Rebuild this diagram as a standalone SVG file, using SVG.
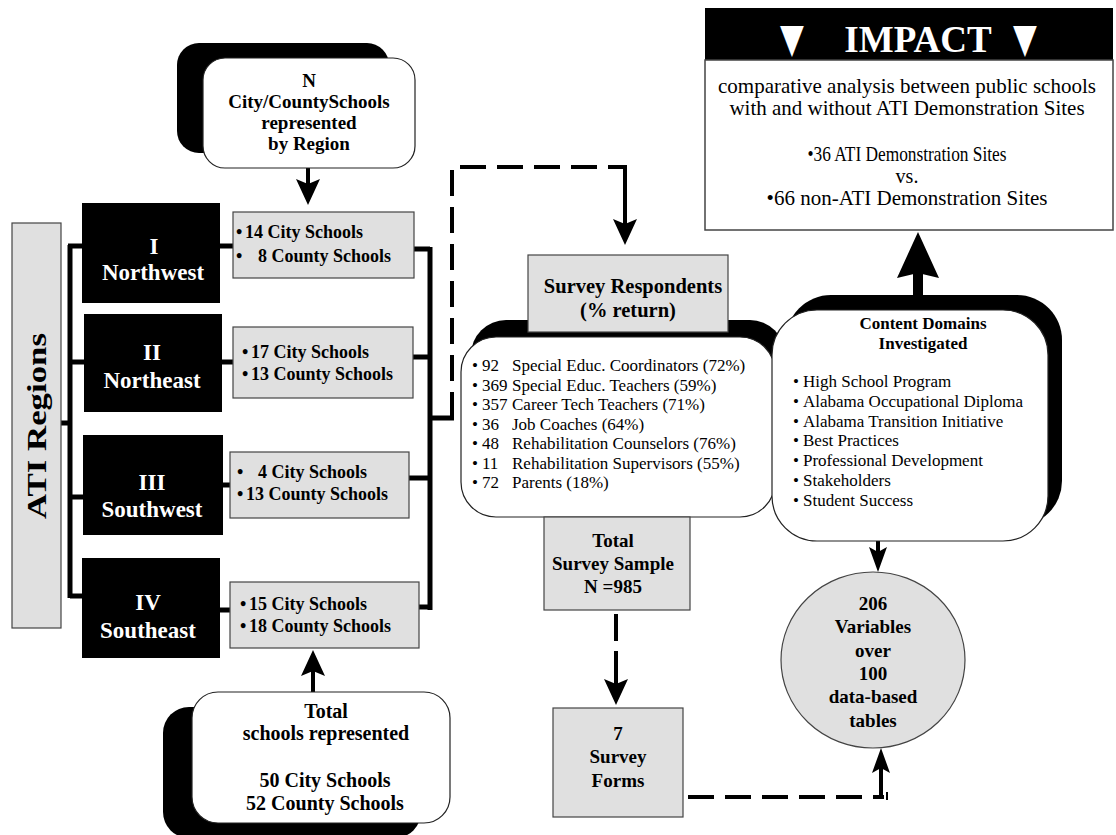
<svg xmlns="http://www.w3.org/2000/svg" width="1116" height="835" viewBox="0 0 1116 835">
<style>
.b{font-family:"Liberation Serif","Times New Roman",serif;font-weight:bold;fill:#000}
.r{font-family:"Liberation Serif","Times New Roman",serif;fill:#000}
.w{fill:#fff}
.gray{fill:#e0e0e0;stroke:#444;stroke-width:1.2}
.blk{fill:#000}
.wbox{fill:#fff;stroke:#222;stroke-width:1.2}
.ln{fill:none;stroke:#000;stroke-width:5}
.arr{fill:none;stroke:#000;stroke-width:4}
.dash{fill:none;stroke:#000;stroke-width:4;stroke-dasharray:26 11}
.mid{text-anchor:middle}
</style>
<defs>
<marker id="ah" markerUnits="userSpaceOnUse" viewBox="-22 -13 32 26" refX="0" refY="0" markerWidth="32" markerHeight="26" orient="auto">
<path d="M8,0 L-18,-12 L-13,0 L-18,12 Z" fill="#000"/>
</marker>
<marker id="ahS" markerUnits="userSpaceOnUse" viewBox="-22 -11 30 22" refX="0" refY="0" markerWidth="30" markerHeight="22" orient="auto">
<path d="M6,0 L-19,-9 L-14,0 L-19,9 Z" fill="#000"/>
</marker>
<marker id="ahB" markerUnits="userSpaceOnUse" viewBox="-40 -23 56 46" refX="0" refY="0" markerWidth="56" markerHeight="46" orient="auto">
<path d="M12,0 L-34,-21 L-29,0 L-34,21 Z" fill="#000"/>
</marker>
</defs>

<g id="connectors">
<path class="ln" d="M61,423 H70 M70,245 V598 M68,246 H84 M70,362 H86 M70,497 H86 M70,596 H84"/>
<path class="ln" d="M220,246 H235 M222,362 H235 M223,485 H232 M220,610 H232"/>
<path class="ln" d="M414,249 H430 M430,247 V610 M413,357 H430 M409,478 H430 M419,607 H430 M430,418 H454"/>
<path class="dash" d="M452,418 V167 H625"/>
<path class="arr" d="M625,165 V237" marker-end="url(#ah)"/>
<path class="arr" d="M308,168 V197" marker-end="url(#ah)"/>
<path class="arr" d="M313,692 V658" marker-end="url(#ah)"/>
<path class="arr" d="M616,614 V641 M616,651 V697" marker-end="url(#ah)"/>
<path class="dash" d="M688,797 H884"/>
<path fill="none" stroke="#000" stroke-width="2" d="M887,792 V800"/>
<path class="arr" d="M881,799 V754" marker-end="url(#ahS)"/>
<path class="arr" d="M878,541 V566" marker-end="url(#ahS)"/>
<path fill="none" stroke="#000" stroke-width="10" d="M918,312 V244" marker-end="url(#ahB)"/>
</g>

<g id="n-box">
<rect x="177" y="43" width="212" height="110" rx="22" class="blk"/>
<rect x="203" y="58" width="212" height="110" rx="22" class="wbox"/>
<text class="b mid" font-size="19" x="309"><tspan x="309" y="87">N</tspan><tspan x="309" y="108">City/CountySchools</tspan><tspan x="309" y="129">represented</tspan><tspan x="309" y="150">by Region</tspan></text>
</g>

<g id="ati-regions">
<rect x="12" y="223" width="49" height="405" class="gray"/>
<text class="b mid" font-size="27" transform="translate(46,426) rotate(-90)" x="0" y="0" textLength="186" lengthAdjust="spacingAndGlyphs">ATI Regions</text>
</g>

<g id="region-1">
<rect x="82" y="203" width="138" height="100" class="blk"/>
<text class="b mid w" font-size="23"><tspan x="154" y="254">I</tspan><tspan x="153" y="280">Northwest</tspan></text>
</g>
<g id="region-2">
<rect x="84" y="314" width="138" height="98" class="blk"/>
<text class="b mid w" font-size="23"><tspan x="152" y="360">II</tspan><tspan x="152" y="388">Northeast</tspan></text>
</g>
<g id="region-3">
<rect x="83" y="435" width="140" height="100" class="blk"/>
<text class="b mid w" font-size="23"><tspan x="152" y="490">III</tspan><tspan x="152" y="517">Southwest</tspan></text>
</g>
<g id="region-4">
<rect x="82" y="558" width="138" height="100" class="blk"/>
<text class="b mid w" font-size="23"><tspan x="148" y="610">IV</tspan><tspan x="148" y="638">Southeast</tspan></text>
</g>

<g id="counts-1">
<rect x="233" y="212" width="181" height="66" class="gray"/>
<text class="b" font-size="18"><tspan x="236" y="238">•</tspan><tspan x="245" y="238">14 City Schools</tspan><tspan x="236" y="262">•</tspan><tspan x="258" y="262">8 County Schools</tspan></text>
</g>
<g id="counts-2">
<rect x="233" y="327" width="180" height="71" class="gray"/>
<text class="b" font-size="18"><tspan x="242" y="358">•</tspan><tspan x="251" y="358">17 City Schools</tspan><tspan x="242" y="380">•</tspan><tspan x="251" y="380">13 County Schools</tspan></text>
</g>
<g id="counts-3">
<rect x="230" y="452" width="179" height="66" class="gray"/>
<text class="b" font-size="18"><tspan x="237" y="478">•</tspan><tspan x="258" y="478">4 City Schools</tspan><tspan x="237" y="500">•</tspan><tspan x="246" y="500">13 County Schools</tspan></text>
</g>
<g id="counts-4">
<rect x="230" y="582" width="189" height="66" class="gray"/>
<text class="b" font-size="18"><tspan x="240" y="610">•</tspan><tspan x="249" y="610">15 City Schools</tspan><tspan x="240" y="632">•</tspan><tspan x="249" y="632">18 County Schools</tspan></text>
</g>

<g id="total-box">
<rect x="163" y="707" width="258" height="131" rx="26" class="blk"/>
<rect x="192" y="692" width="258" height="131" rx="26" class="wbox"/>
<text class="b mid" font-size="20"><tspan x="326" y="718">Total</tspan><tspan x="326" y="740">schools represented</tspan><tspan x="325" y="787">50 City Schools</tspan><tspan x="325" y="810">52 County Schools</tspan></text>
</g>

<g id="respondents">
<rect x="471" y="320" width="314" height="180" rx="35" class="blk"/>
<rect x="461" y="337" width="314" height="180" rx="35" class="wbox"/>
<text class="r" font-size="17">
<tspan x="472" y="371">•</tspan><tspan x="482" y="371">92</tspan><tspan x="512" y="371">Special Educ. Coordinators (72%)</tspan>
<tspan x="472" y="390.5">•</tspan><tspan x="482" y="390.5">369</tspan><tspan x="512" y="390.5">Special Educ. Teachers (59%)</tspan>
<tspan x="472" y="410">•</tspan><tspan x="482" y="410">357</tspan><tspan x="512" y="410">Career Tech Teachers (71%)</tspan>
<tspan x="472" y="429.5">•</tspan><tspan x="482" y="429.5">36</tspan><tspan x="512" y="429.5">Job Coaches (64%)</tspan>
<tspan x="472" y="449">•</tspan><tspan x="482" y="449">48</tspan><tspan x="512" y="449">Rehabilitation Counselors (76%)</tspan>
<tspan x="472" y="468.5">•</tspan><tspan x="482" y="468.5">11</tspan><tspan x="512" y="468.5">Rehabilitation Supervisors (55%)</tspan>
<tspan x="472" y="488">•</tspan><tspan x="482" y="488">72</tspan><tspan x="512" y="488">Parents (18%)</tspan>
</text>
</g>

<g id="respondents-title">
<rect x="528" y="255" width="200" height="77" class="gray"/>
<text class="b mid" font-size="20.5"><tspan x="633" y="293">Survey Respondents</tspan><tspan x="628" y="317">(% return)</tspan></text>
</g>

<g id="content-domains">
<rect x="786" y="295" width="276" height="231" rx="45" class="blk"/>
<rect x="772" y="310" width="276" height="231" rx="45" class="wbox"/>
<text class="b mid" font-size="17"><tspan x="923" y="329">Content Domains</tspan><tspan x="923" y="349">Investigated</tspan></text>
<text class="r" font-size="17">
<tspan x="793" y="387">•</tspan><tspan x="803" y="387">High School Program</tspan>
<tspan x="793" y="407">•</tspan><tspan x="803" y="407">Alabama Occupational Diploma</tspan>
<tspan x="793" y="427">•</tspan><tspan x="803" y="427">Alabama Transition Initiative</tspan>
<tspan x="793" y="446">•</tspan><tspan x="803" y="446">Best Practices</tspan>
<tspan x="793" y="466">•</tspan><tspan x="803" y="466">Professional Development</tspan>
<tspan x="793" y="486">•</tspan><tspan x="803" y="486">Stakeholders</tspan>
<tspan x="793" y="506">•</tspan><tspan x="803" y="506">Student Success</tspan>
</text>
</g>

<g id="survey-sample">
<rect x="544" y="517" width="146" height="93" class="gray"/>
<text class="b mid" font-size="19"><tspan x="613" y="547">Total</tspan><tspan x="613" y="570">Survey Sample</tspan><tspan x="613" y="593">N =985</tspan></text>
</g>

<g id="survey-forms">
<rect x="553" y="708" width="130" height="109" class="gray"/>
<text class="b mid" font-size="19"><tspan x="618" y="740">7</tspan><tspan x="618" y="763">Survey</tspan><tspan x="618" y="787">Forms</tspan></text>
</g>

<g id="variables">
<ellipse cx="873" cy="660" rx="92" ry="88" class="gray"/>
<text class="b mid" font-size="19"><tspan x="873" y="610">206</tspan><tspan x="873" y="633">Variables</tspan><tspan x="873" y="657">over</tspan><tspan x="873" y="680">100</tspan><tspan x="873" y="703">data-based</tspan><tspan x="873" y="727">tables</tspan></text>
</g>

<g id="impact">
<rect x="705" y="8" width="408" height="52" class="blk"/>
<rect x="705" y="60" width="408" height="170" fill="#fff" stroke="#444" stroke-width="1.5"/>
<text font-family="DejaVu Sans,sans-serif" font-size="31" fill="#fff" text-anchor="middle" transform="translate(0,-13) scale(1,1.3)"><tspan x="792" y="50">▼</tspan><tspan x="1025" y="50">▼</tspan></text>
<text class="b mid w" font-size="37" x="918" y="52">IMPACT</text>
<text class="r mid" font-size="21"><tspan x="907" y="93">comparative analysis between public schools</tspan><tspan x="907" y="115">with and without ATI Demonstration Sites</tspan></text>
<text class="r mid" font-size="21" x="907" y="161" textLength="199" lengthAdjust="spacingAndGlyphs">•36 ATI Demonstration Sites</text>
<text class="r mid" font-size="20" x="907" y="183">vs.</text>
<text class="r mid" font-size="21" x="907" y="205">•66 non-ATI Demonstration Sites</text>
</g>
</svg>
